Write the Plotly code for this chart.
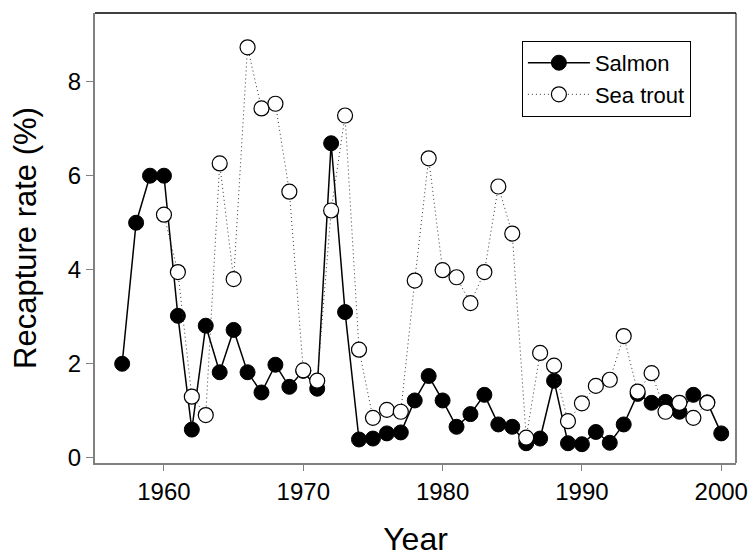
import plotly.graph_objects as go

salmon_years = list(range(1957, 2001))
salmon = [2.0, 5.0, 6.0, 6.0, 3.02, 0.6, 2.81, 1.82, 2.72, 1.82, 1.39, 1.98, 1.51,
          1.85, 1.47, 6.69, 3.10, 0.39, 0.41, 0.52, 0.54, 1.22, 1.74,
          1.22, 0.66, 0.93, 1.34, 0.71, 0.66, 0.31, 0.41, 1.64, 0.31,
          0.29, 0.55, 0.32, 0.71, 1.36, 1.17, 1.19, 0.98, 1.34, 1.18,
          0.52]

trout_years = list(range(1960, 2000))
sea_trout = [5.17, 3.95, 1.30, 0.91, 6.26, 3.80, 8.73, 7.43, 7.53, 5.66,
             1.86, 1.64, 5.26, 7.28, 2.30, 0.85, 1.02, 0.98, 3.77, 6.37,
             3.99, 3.84, 3.29, 3.95, 5.77, 4.77, 0.43, 2.23, 1.96, 0.78,
             1.16, 1.53, 1.66, 2.59, 1.41, 1.80, 0.98, 1.17, 0.85, 1.17]

x_ticks = [1960, 1970, 1980, 1990, 2000]
y_ticks = [0, 2, 4, 6, 8]

FONT = "Arial, Liberation Sans, sans-serif"
GRAY = "#808080"

fig = go.Figure()
fig.add_trace(go.Scatter(
    x=salmon_years, y=salmon, name="Salmon", mode="lines+markers",
    line=dict(color="black", width=1.5),
    marker=dict(symbol="circle", size=15, color="black",
                line=dict(color="black", width=1)),
))
fig.add_trace(go.Scatter(
    x=trout_years, y=sea_trout, name="Sea trout", mode="lines+markers",
    line=dict(color="#333333", width=1, dash="1px,3px"),
    marker=dict(symbol="circle", size=15, color="white",
                line=dict(color="black", width=1.2)),
))

fig.update_layout(
    width=752, height=557,
    margin=dict(l=95, r=16, t=13, b=94),
    paper_bgcolor="white", plot_bgcolor="white",
    font=dict(family=FONT, color="black"),
    showlegend=True,
    legend=dict(
        x=0.666, y=0.938, xanchor="left", yanchor="top",
        bordercolor="black", borderwidth=1, bgcolor="white",
        font=dict(size=22, family=FONT, color="black"),
        itemwidth=62, tracegroupgap=0,
    ),
    xaxis=dict(
        range=[1955.05, 2001.06], tickvals=x_ticks,
        ticktext=[str(v) for v in x_ticks],
        showgrid=False, zeroline=False,
        showline=True, linecolor=GRAY, linewidth=2,
        ticks="outside", ticklen=6, tickcolor=GRAY, tickwidth=1,
        tickfont=dict(size=24, family=FONT, color="black"),
        title=dict(text="Year", font=dict(size=32, family=FONT, color="black"),
                   standoff=28),
        automargin=False,
    ),
    yaxis=dict(
        range=[-0.11, 9.46], tickvals=y_ticks,
        ticktext=[str(v) for v in y_ticks],
        showgrid=False, zeroline=False,
        showline=True, linecolor=GRAY, linewidth=2,
        ticks="outside", ticklen=7, tickcolor=GRAY, tickwidth=1,
        tickfont=dict(size=24, family=FONT, color="black"),
        title=dict(text="Recapture rate (%)",
                   font=dict(size=31, family=FONT, color="black"),
                   standoff=22),
        automargin=False,
    ),
)

# frame: right side gray, top black
fig.add_shape(type="line", xref="paper", yref="paper", x0=1, x1=1, y0=0, y1=1,
              line=dict(color=GRAY, width=2))
fig.add_shape(type="line", xref="paper", yref="paper", x0=0, x1=1, y0=1, y1=1,
              line=dict(color="black", width=1.5))

fig.write_html("out.html")
